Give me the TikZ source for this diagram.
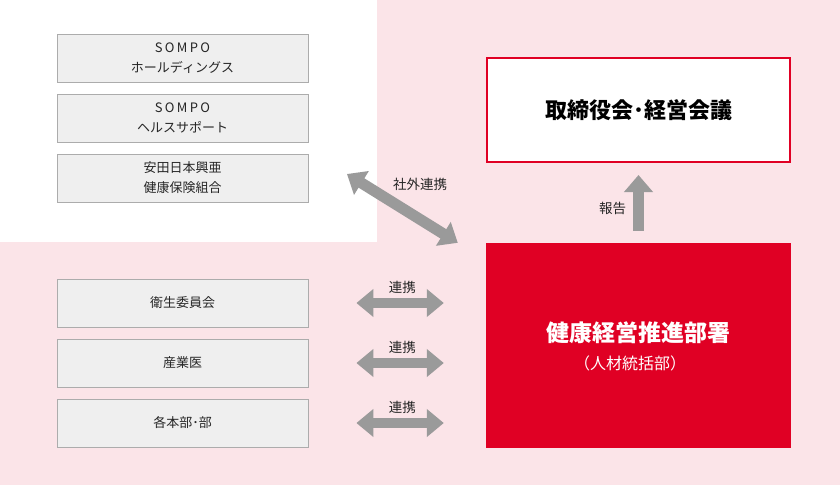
\documentclass[tikz,border=0pt]{standalone}
\usepackage{fontspec}
\setmainfont{Noto Sans CJK JP}
\newfontfamily\wideLatin[LetterSpace=18]{Noto Sans CJK JP}
\usetikzlibrary{arrows.meta}
\definecolor{bgPink}{RGB}{251, 228, 232}
\definecolor{mainRed}{RGB}{224, 0, 36}
\definecolor{arrowGray}{RGB}{154, 154, 154}
\definecolor{boxGray}{RGB}{239, 239, 239}
\definecolor{lineGray}{RGB}{172, 172, 172}

\tikzset{
  orgbox/.style={draw=lineGray, fill=boxGray, line width=0.8pt, minimum width=251pt,
    minimum height=48pt, inner sep=0pt, align=center, text=black!85,
    font=\fontsize{13}{20}\selectfont},
  linkarrow/.style={draw=arrowGray, line width=10pt,
    {Triangle[width=27pt,length=17pt]}-{Triangle[width=27pt,length=17pt]}},
  reportarrow/.style={draw=arrowGray, line width=11pt, -{Triangle[width=28pt,length=17pt]}},
  tag/.style={font=\fontsize{13.5}{16}\selectfont, text=black!85, inner sep=0pt},
}

\begin{document}
\begin{tikzpicture}[x=1pt, y=-1pt]
        \useasboundingbox (0,0) rectangle (840,485);
        \fill[bgPink] (0,0) rectangle (840,485);
        \fill[white] (0,0) rectangle (377,242);
        % group companies
        \node[orgbox] (holdings) at (182.5,58) {{\wideLatin SOMPO}\\ホールディングス};
        \node[orgbox] (support) at (182.5,118) {{\wideLatin SOMPO}\\ヘルスサポート};
        \node[orgbox] (kumiai) at (182.5,178) {安田日本興亜\\健康保険組合};
        % internal
        \node[orgbox] (eisei) at (182.5,303) {衛生委員会};
        \node[orgbox] (sangyoui) at (182.5,363) {産業医};
        \node[orgbox] (honbu) at (182.5,423) {各本部･部};
        % right side
        \node[draw=mainRed, line width=2pt, fill=white, minimum width=303pt, minimum height=104pt,
          font=\bfseries\fontsize{22}{26}\selectfont] (kaigi) at (638.5,110) {取締役会･経営会議};
        \node[fill=mainRed, minimum width=305pt, minimum height=205pt, inner sep=0pt] (busho) at (638.5,345.5) {};
        \node[text=white, inner sep=0pt, font=\bfseries\fontsize{23}{26}\selectfont] (bushoname) at (638.5,333) {健康経営推進部署};
        \node[text=white, inner sep=0pt, font=\fontsize{16}{18}\selectfont] (bushosub) at (630,363) {（人材統括部）};
        % arrows
        \draw[linkarrow, shorten <=48pt, shorten >=42pt] (eisei.east) -- (eisei.east -| busho.west)
          node[tag, pos=0.53, yshift=16pt] {連携};
        \draw[linkarrow, shorten <=48pt, shorten >=42pt] (sangyoui.east) -- (sangyoui.east -| busho.west)
          node[tag, pos=0.53, yshift=16pt] {連携};
        \draw[linkarrow, shorten <=48pt, shorten >=42pt] (honbu.east) -- (honbu.east -| busho.west)
          node[tag, pos=0.53, yshift=16pt] {連携};
        \coordinate (group) at (347,174);
        \draw[linkarrow, line width=11pt] (group) -- ([xshift=-28pt]busho.north west);
        \node[tag] (shagai) at (420,184) {社外連携};
        \draw[reportarrow, shorten <=12pt, shorten >=12pt] (busho.north) -- (kaigi.south)
          node[tag, pos=0.425, xshift=-26pt] {報告};
      \end{tikzpicture}
\end{document}
